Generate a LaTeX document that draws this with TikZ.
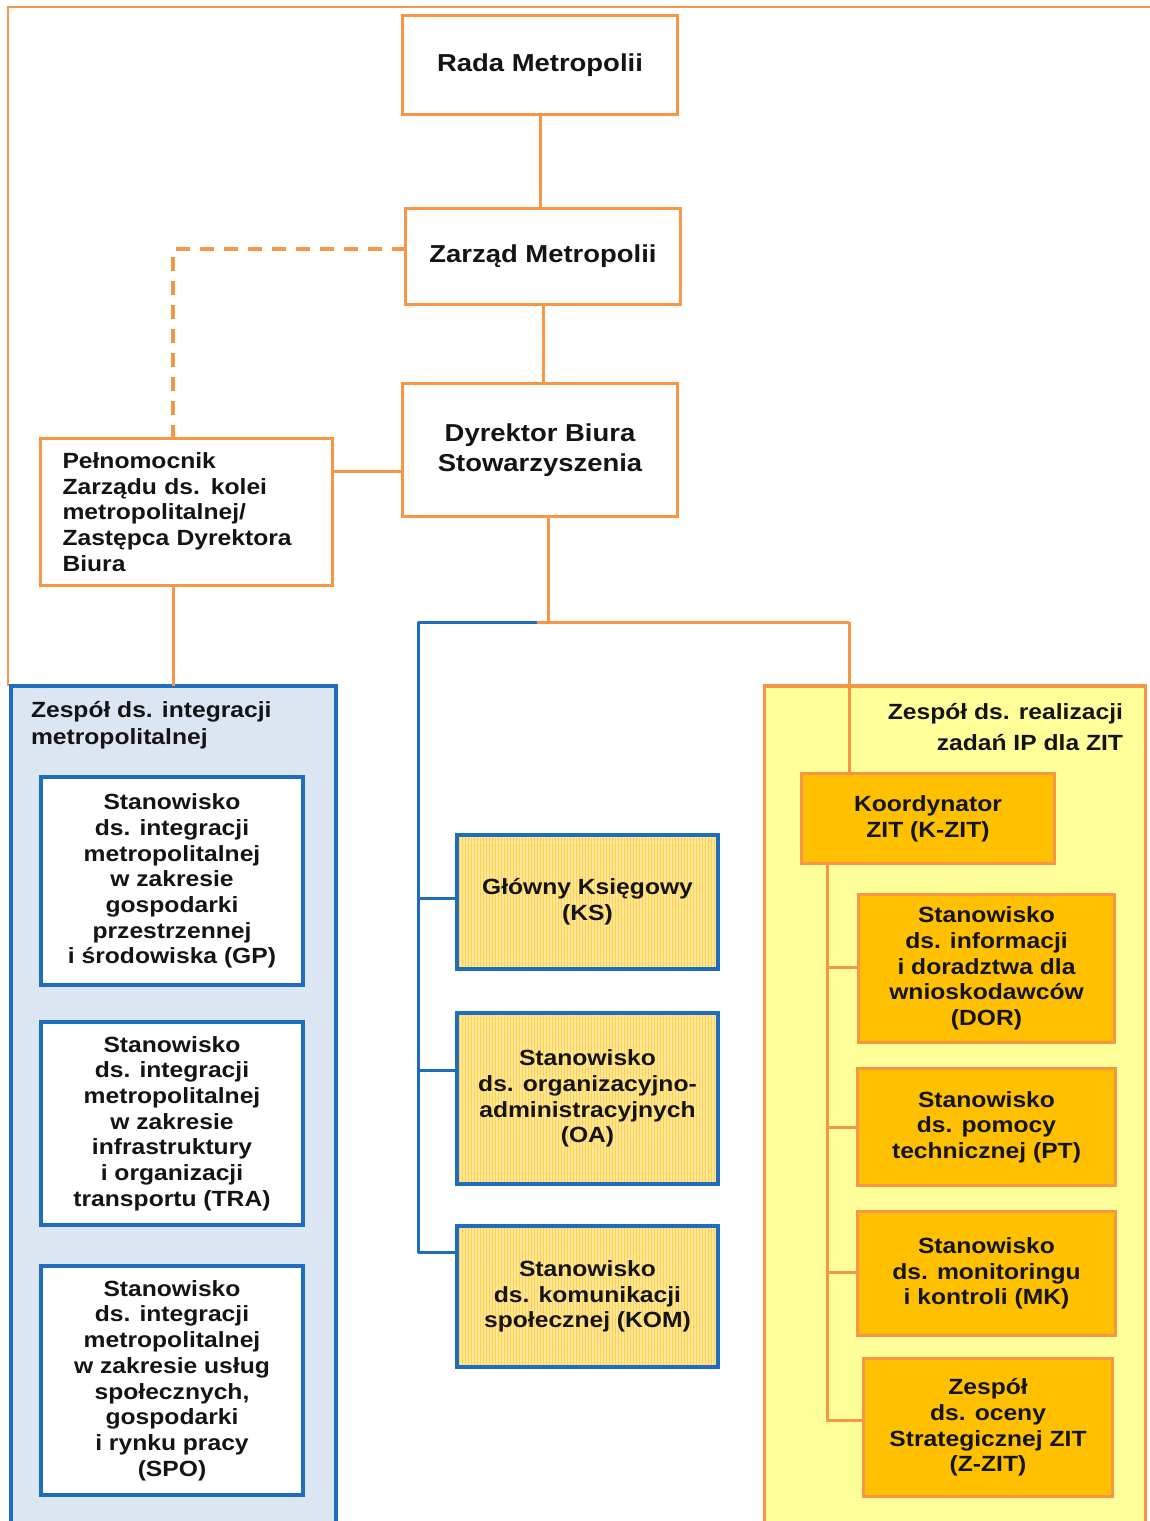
\documentclass[tikz,border=0pt]{standalone}
\usepackage{fontspec}
\setmainfont{Liberation Sans}[FakeStretch=1.12]
\usetikzlibrary{patterns}
\definecolor{orgc}{HTML}{F79646}
\definecolor{bluec}{HTML}{1F6DBF}
\definecolor{bluefill}{HTML}{DCE6F2}
\definecolor{yelpanel}{HTML}{FFFF99}
\definecolor{goldbox}{HTML}{FFC000}
\definecolor{hatchbase}{HTML}{FFE699}
\definecolor{hatchline}{HTML}{FFD24D}
\definecolor{txtc}{HTML}{141414}
\newcommand\boxtxt{\fontsize{22}{25.7}\selectfont\bfseries}
\newcommand\bigtxt{\fontsize{24.5}{30}\selectfont\bfseries}
\begin{document}
\begin{tikzpicture}[x=1pt,y=-1pt,
  every node/.style={inner sep=0pt, outer sep=0pt, text=txtc},
  topbox/.style={draw=orgc, line width=3.8pt, fill=white, align=center, font=\bigtxt},
  wbox/.style={draw=bluec, line width=4.5pt, fill=white, align=center, font=\boxtxt, minimum width=262pt},
  hbox/.style={draw=bluec, line width=4.5pt, preaction={fill=hatchbase}, pattern=vertical lines, pattern color=hatchline, align=center, font=\boxtxt, minimum width=261pt},
  gbox/.style={draw=orgc, line width=3.8pt, fill=goldbox, align=center, font=\boxtxt},
  oline/.style={draw=orgc, line width=3pt},
  bline/.style={draw=bluec, line width=3pt},
  dline/.style={draw=orgc, line width=3.5pt, dash pattern=on 14pt off 10pt},
  frameline/.style={draw=orgc, line width=2pt}
]
\useasboundingbox (0,0) rectangle (1150,1521);
\clip (0,0) rectangle (1150,1521);

% outer frame
\draw[frameline] (8,686) -- (8,7) -- (1155,7);

% panels
\node[draw=bluec, line width=4pt, fill=bluefill, minimum width=325pt, minimum height=854pt] (bluep) at (173,1113) {};
\node[draw=orgc, line width=3.5pt, fill=yelpanel, minimum width=381pt, minimum height=854pt] (yelp) at (955,1113) {};
\node[anchor=west, align=left, font=\fontsize{22}{27}\selectfont\bfseries] (bluet) at (31,725) {Zespół ds. integracji\\metropolitalnej};
\node[anchor=east, align=right, font=\fontsize{22}{31}\selectfont\bfseries] (yelt) at (1123,727) {Zespół ds. realizacji\\zadań IP dla ZIT};

% top boxes
\node[topbox, minimum width=275pt, minimum height=99pt] (rada) at (540,65) {Rada Metropolii};
\node[topbox, minimum width=275pt, minimum height=96pt] (zarzad) at (543,256.5) {Zarząd Metropolii};
\node[topbox, minimum width=275pt, minimum height=133pt] (dyr) at (540,450) {Dyrektor Biura\\Stowarzyszenia};
\node[draw=orgc, line width=3.8pt, fill=white, minimum width=292pt, minimum height=147pt, text width=248pt, align=left, font=\boxtxt] (pelnom) at (186.5,512) {Pełnomocnik\\Zarządu ds. kolei\\metropolitalnej/\\Zastępca Dyrektora\\Biura};

% coordinates for connectors
\coordinate (dcorner) at (173,249);
\coordinate (hub) at (548,622);
\coordinate (bsplit) at (537,622);
\coordinate (bcorner) at (418,622);
\coordinate (rjoin) at (849,622);
\coordinate (rline) at (827,0);

% connectors (top)
\draw[oline] (rada.south) -- (rada.south |- zarzad.north);
\draw[oline] (zarzad.south) -- (zarzad.south |- dyr.north);
\draw[dline] (zarzad.west |- dcorner) -- (dcorner) -- (dcorner |- pelnom.north);
\draw[oline] (pelnom.east |- 0,471) -- (dyr.west |- 0,471);
\draw[oline] (bluep.north |- pelnom.south) -- (bluep.north);
\draw[oline] (dyr.south -| hub) -- (hub);
\draw[oline] (bsplit) -- (rjoin);

% inner white boxes
\node[wbox, minimum height=208pt] (gp) at (172,881) {Stanowisko\\ds. integracji\\metropolitalnej\\w zakresie\\gospodarki\\przestrzennej\\i środowiska (GP)};
\node[wbox, minimum height=203pt] (tra) at (172,1123.5) {Stanowisko\\ds. integracji\\metropolitalnej\\w zakresie\\infrastruktury\\i organizacji\\transportu (TRA)};
\node[wbox, minimum height=229pt] (spo) at (172,1380.5) {Stanowisko\\ds. integracji\\metropolitalnej\\w zakresie usług\\społecznych,\\gospodarki\\i rynku pracy\\(SPO)};

% middle hatched boxes
\node[hbox, minimum height=134pt] (ks) at (587.5,902) {Główny Księgowy\\(KS)};
\node[hbox, minimum height=171pt] (oa) at (587.5,1098.5) {Stanowisko\\ds. organizacyjno-\\administracyjnych\\(OA)};
\node[hbox, minimum height=141pt] (kom) at (587.5,1296.5) {Stanowisko\\ds. komunikacji\\społecznej (KOM)};

% blue connectors
\draw[bline, line join=round] (bsplit) -- (bcorner) -- (bcorner |- 0,1252) -- (kom.west |- 0,1252);
\draw[bline] (bcorner |- 0,898) -- (ks.west |- 0,898);
\draw[bline] (bcorner |- 0,1070) -- (oa.west |- 0,1070);

% right boxes
\node[gbox, minimum width=253pt, minimum height=90pt] (koord) at (928,818.5) {Koordynator\\ZIT (K-ZIT)};
\draw[oline] (rjoin) -- (rjoin |- koord.north);
\node[gbox, minimum width=256pt, minimum height=148pt] (dor) at (986.5,968.5) {Stanowisko\\ds. informacji\\i doradztwa dla\\wnioskodawców\\(DOR)};
\node[gbox, minimum width=258pt, minimum height=117pt] (pt) at (986.5,1127) {Stanowisko\\ds. pomocy\\technicznej (PT)};
\node[gbox, minimum width=258pt, minimum height=124pt] (mk) at (986.5,1273.5) {Stanowisko\\ds. monitoringu\\i kontroli (MK)};
\node[gbox, minimum width=249pt, minimum height=138pt] (zzit) at (988,1427.5) {Zespół\\ds. oceny\\Strategicznej ZIT\\(Z-ZIT)};

% right connectors
\draw[oline, line join=miter] (rline |- koord.south) -- (rline |- 0,1420) -- (zzit.west |- 0,1420);
\draw[oline] (rline |- 0,967) -- (dor.west |- 0,967);
\draw[oline] (rline |- pt.west) -- (pt.west);
\draw[oline] (rline |- 0,1272) -- (mk.west |- 0,1272);
\end{tikzpicture}
\end{document}
